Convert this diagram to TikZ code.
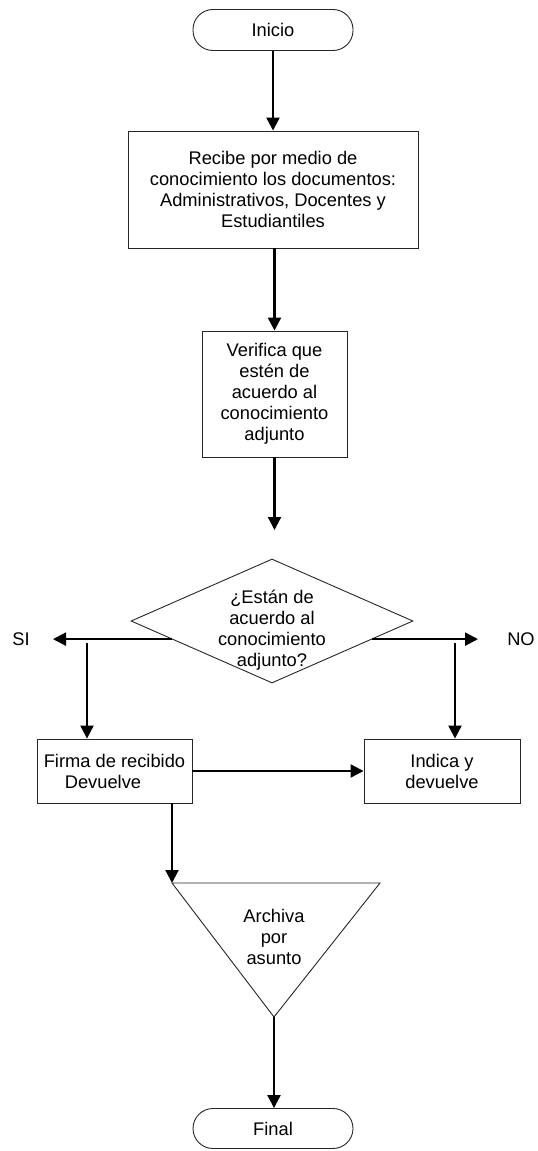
\documentclass[tikz,border=0pt]{standalone}
\usepackage{fontspec}
\setmainfont{Liberation Sans}
\usetikzlibrary{arrows.meta,shapes.geometric,calc}
\begin{document}
\begin{tikzpicture}[x=1pt,y=-1pt,
  every node/.style={font=\fontsize{18.3}{21}\selectfont, align=center, inner sep=0pt},
  outline/.style={draw=black!85, line width=0.9pt},
  terminal/.style={outline, rounded corners=20pt, minimum width=160pt, minimum height=41pt},
  procbox/.style={outline, rectangle},
  flow/.style={line width=2.2pt, -{Triangle[length=13pt,width=13pt]}},
]
\useasboundingbox (0,0) rectangle (538,1151);

% start and the two first steps
\node[terminal] (ini) at (273,30) {Inicio};
\node[procbox, minimum width=290pt, minimum height=117pt] (b1) at (273,189.5)
  {Recibe por medio de\\conocimiento los documentos:\\Administrativos, Docentes y\\Estudiantiles};
\node[procbox, minimum width=145pt, minimum height=126pt] (b2) at (274.5,394)
  {Verifica que\\estén de\\acuerdo al\\conocimiento\\adjunto};
\coordinate (gap) at (274.5,530);

\draw[flow] (ini.south) -- (b1.north);
\draw[flow] (b1.south -| b2.north) -- (b2.north);
\draw[flow] (b2.south) -- (gap);

% decision
\node[outline, diamond, minimum width=282pt, minimum height=124pt] (dia) at (272,621) {};
\node (diatext) at (272,630) {¿Están de\\acuerdo al\\conocimiento\\adjunto?};

\coordinate (sistart) at ($(dia.west)!0.29!(dia.south)$);
\coordinate (sitip) at (53,639);
\coordinate (nostart) at ($(dia.east)!0.29!(dia.south)$);
\coordinate (notip) at (478,639);
\draw[flow] (sistart) -- (sistart -| sitip);
\draw[flow] (nostart) -- (nostart -| notip);
\node (si) at (21,639) {SI};
\node (no) at (521,639) {NO};

% branch boxes
\node[procbox, minimum width=155pt, minimum height=64pt, align=left] (b3) at (114.5,771)
  {Firma de recibido\\\hspace*{21pt}Devuelve};
\node[procbox, minimum width=156pt, minimum height=64pt] (b4) at (442,771)
  {Indica y\\devuelve};

\coordinate (sidrop) at (87,643);
\coordinate (nodrop) at (455,643);
\draw[flow] (sidrop) -- (sidrop |- b3.north);
\draw[flow] (nodrop) -- (nodrop |- b4.north);
\draw[flow] (b3.east) -- (b4.west);

% archive triangle
\coordinate (tl) at (172,883);
\coordinate (tr) at (380,883);
\coordinate (tb) at (274,1017);
\draw[outline, line join=miter] (tl) -- (tr) -- (tb) -- cycle;
\node (arch) at (274,937) {Archiva\\por\\asunto};
\draw[flow] (b3.south -| tl) -- (tl);

% end
\node[terminal, minimum height=40pt] (fin) at (273,1128.5) {Final};
\draw[flow] (tb) -- (tb |- fin.north);
\end{tikzpicture}
\end{document}
